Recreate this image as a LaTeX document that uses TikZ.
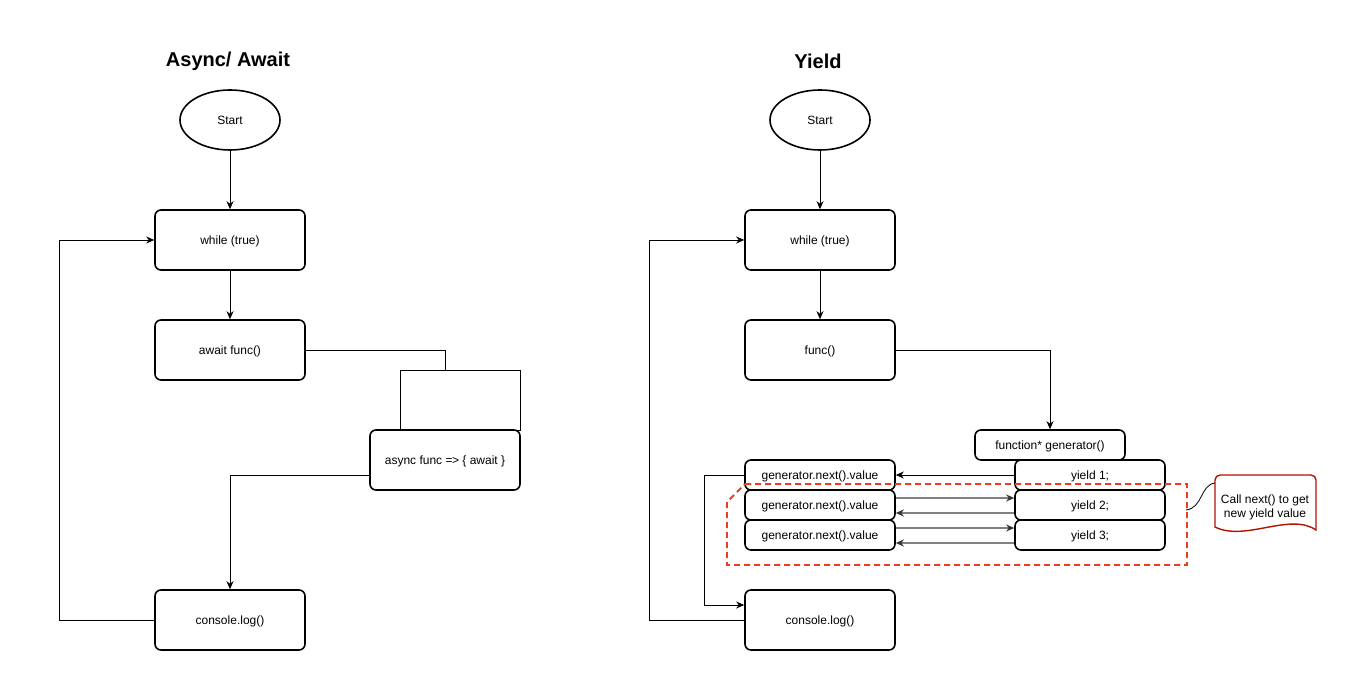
\documentclass[tikz,border=0pt]{standalone}
\usepackage{fontspec}
\setmainfont{Liberation Sans}
\usepackage{xcolor}
\usepackage{tikz}
\usetikzlibrary{arrows.meta,shapes.geometric}

\definecolor{dashred}{RGB}{240,60,30}
\definecolor{notered}{RGB}{178,20,0}

\begin{document}
\begin{tikzpicture}[x=1pt,y=-1pt,
    >={Stealth[length=8pt,width=7pt,inset=2.5pt]},
    box/.style={draw,line width=1.6pt,rounded corners=6pt,fill=white,
      minimum width=150pt,minimum height=60pt,text height=10.5pt,text depth=1.5pt,
      font=\fontsize{12}{14}\selectfont},
    smallbox/.style={box,minimum height=30pt},
    startnode/.style={draw,line width=1.6pt,ellipse,fill=white,
      minimum width=100pt,minimum height=60pt,font=\fontsize{12}{14}\selectfont},
    title/.style={font=\fontsize{20}{24}\selectfont\bfseries},
    line/.style={->,line width=0.8pt},
    gline/.style={-{Stealth[length=8pt,width=7pt,inset=2.5pt,black!80]},line width=1.3pt,gray}]
  \useasboundingbox[fill=white] (0,0) rectangle (1370,700);

  % Async/ Await
  \node[title] (title1) at (228,61) {Async/ Await};
  \node[startnode] (start1) at (230,120) {Start};
  \node[box] (while1) at (230,240) {while (true)};
  \node[box] (await) at (230,350) {await func()};
  \node[box] (async) at (445,460) {async func =\kern-0.5pt> \{ await \}};
  \node[box] (console1) at (230,620) {console.log()};
  \coordinate (loopin) at (445,370);

  \draw[line] (start1) -- (while1);
  \draw[line] (while1) -- (await);
  \draw[line width=0.8pt] (await.east) -| (loopin);
  \draw[line width=0.8pt] (400,370) rectangle (520,430);
  \draw[line] ([yshift=-15pt]async.west) -| (console1.north);
  \draw[line] (console1.west) -- ++(-95,0) |- (while1.west);

  % Yield
  \node[title] (title2) at (818,61) {Yield};
  \node[startnode] (start2) at (820,120) {Start};
  \node[box] (while2) at (820,240) {while (true)};
  \node[box] (func) at (820,350) {func()};
  \node[smallbox] (gen) at (1050,445) {function* generator()};
  \foreach \i/\y in {1/475,2/505,3/535} {
    \node[smallbox] (y\i) at (1090,\y) {yield \i;};
    \node[smallbox] (n\i) at (820,\y) {generator.next().value};
  }
  \node[box] (console2) at (820,620) {console.log()};

  \draw[line] (start2) -- (while2);
  \draw[line] (while2) -- (func);
  \draw[line] (func.east) -| (gen.north);
  \draw[line] (y1.west) -- (n1.east);
  \foreach \i in {2,3} {
    \draw[gline] ([yshift=7pt]n\i.east) -- ([yshift=7pt]y\i.west);
    \draw[gline] ([yshift=-8pt]y\i.west) -- ([yshift=-8pt]n\i.east);
  }
  \draw[line] (n1.west) -- ++(-40,0) |- ([yshift=15pt]console2.west);
  \draw[line] (console2.west) -- ++(-95,0) |- (while2.west);

  % next() region and note
  \draw[dashred,line width=1.8pt,dash pattern=on 6pt off 4pt]
    (745,484) -- (1187,484) -- (1187,565) -- (727,565) -- (727,502) -- cycle;
  \coordinate (region) at (1186,510);
  \draw[notered,line width=1.4pt,fill=white,rounded corners=5pt]
    (1215,527) -- (1215,475) -- (1316,475) [sharp corners] -- (1316,530)
    .. controls (1290,512) and (1245,542) .. (1215,527) -- cycle;
  \node[align=center,font=\fontsize{12}{14}\selectfont] (note) at (1265,507)
    {Call next() to get\\new yield value};
  \coordinate (notein) at (1215,483);
  \draw[line width=0.8pt] (region) .. controls (1203,508) and (1200,485) .. (notein);
\end{tikzpicture}
\end{document}
